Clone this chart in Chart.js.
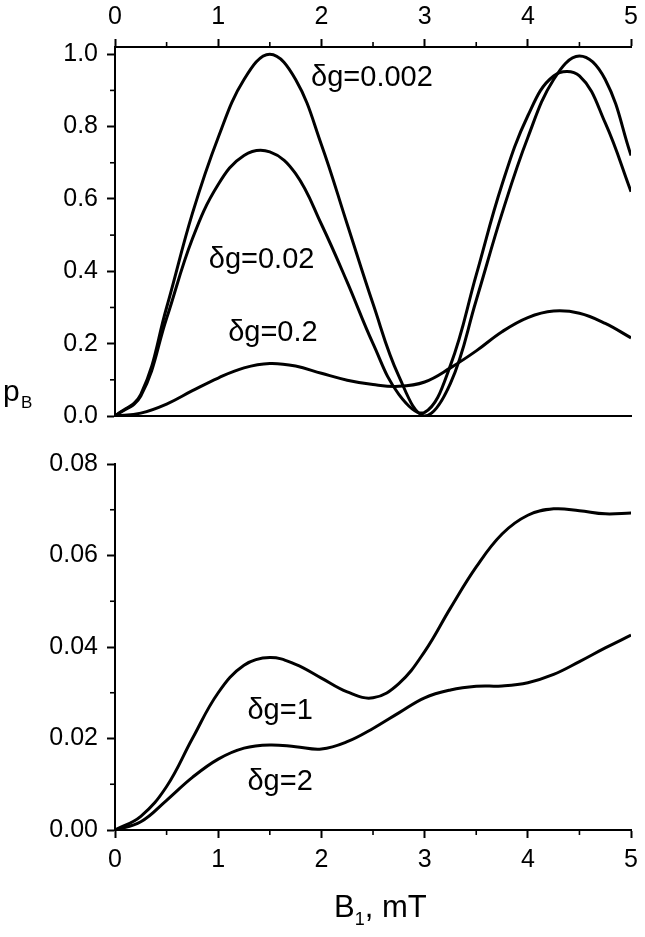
<!DOCTYPE html>
<html lang="en">
<head>
<meta charset="UTF-8">
<title>pB vs B1</title>
<script src="https://cdn.jsdelivr.net/npm/chart.js@4"></script>
<style>
  html, body { margin: 0; padding: 0; background: #fff; }
  body { width: 645px; height: 937px; position: relative; overflow: hidden; }
  .panel { position: absolute; left: 0; width: 645px; }
  #top { top: 0; height: 440px; }
  #bottom { top: 440px; height: 497px; }
</style>
</head>
<body>
<div class="panel" id="top"><canvas id="topChart"></canvas></div>
<div class="panel" id="bottom"><canvas id="bottomChart"></canvas></div>
<script>
// B1 field, mT
const bField = [0, 0.25, 0.5, 0.75, 1, 1.25, 1.5, 1.75, 2, 2.25, 2.5, 2.75, 3,
                3.25, 3.5, 3.75, 4, 4.25, 4.5, 4.75, 5];

// upper panel
const pDg0002 = [0, 0.06, 0.3, 0.56, 0.77, 0.93, 1.0, 0.93, 0.75, 0.53, 0.31, 0.11, 0.0,
                 0.09, 0.32, 0.56, 0.77, 0.93, 0.995, 0.93, 0.72];
const pDg002  = [0, 0.055, 0.27, 0.49, 0.64, 0.72, 0.73, 0.67, 0.53, 0.37, 0.2, 0.06, 0.01,
                 0.14, 0.39, 0.64, 0.83, 0.94, 0.94, 0.81, 0.62];
const pDg02   = [0, 0.008, 0.033, 0.07, 0.105, 0.133, 0.145, 0.138, 0.118, 0.099, 0.087, 0.082, 0.094,
                 0.133, 0.18, 0.233, 0.272, 0.29, 0.284, 0.256, 0.216];

// lower panel
const pDg1 = [0, 0.003, 0.0095, 0.02, 0.03, 0.036, 0.0377, 0.0362, 0.0332, 0.0302, 0.0289, 0.032, 0.039,
              0.0485, 0.0575, 0.0647, 0.0688, 0.0702, 0.0698, 0.0691, 0.0693];
const pDg2 = [0, 0.0018, 0.0065, 0.0115, 0.0155, 0.0179, 0.0186, 0.0182, 0.0177, 0.0193, 0.0222, 0.0256, 0.0289,
              0.0306, 0.0314, 0.0315, 0.0322, 0.034, 0.0368, 0.0398, 0.0426];

// ticks
const xTicks = [0, 1, 2, 3, 4, 5];
const xMinor = [0.5, 1.5, 2.5, 3.5, 4.5];
const yTicksTop = [0, 0.2, 0.4, 0.6, 0.8, 1.0];
const yMinorTop = [0.1, 0.3, 0.5, 0.7, 0.9];
const yTicksBottom = [0, 0.02, 0.04, 0.06, 0.08];
const yMinorBottom = [0.01, 0.03, 0.05, 0.07];

const FONT = "'Liberation Sans', Arial, sans-serif";

function toPoints(ys) {
    return ys.map((y, i) => ({ x: bField[i], y: y }));
}

function lineSet(ys) {
    return {
        data: toPoints(ys),
        borderColor: '#000',
        borderWidth: 3,
        pointRadius: 0,
        fill: false,
        tension: 0.4
    };
}

// short minor tick marks on the outside of the axes
const minorTicks = {
    id: 'minorTicks',
    afterDraw(chart, args, opts) {
        const ctx = chart.ctx;
        ctx.save();
        ctx.strokeStyle = '#000';
        ctx.lineWidth = 1.6;
        (opts.axes || []).forEach(a => {
            const s = chart.scales[a.id];
            a.values.forEach(v => {
                const p = s.getPixelForValue(v);
                ctx.beginPath();
                if (s.isHorizontal()) {
                    const y = s.position === 'top' ? s.bottom : s.top;
                    const dir = s.position === 'top' ? -1 : 1;
                    ctx.moveTo(p, y);
                    ctx.lineTo(p, y + dir * 5);
                } else {
                    ctx.moveTo(s.right, p);
                    ctx.lineTo(s.right - 5, p);
                }
                ctx.stroke();
            });
        });
        ctx.restore();
    }
};

// curve labels and axis titles
const textLabels = {
    id: 'textLabels',
    afterDraw(chart, args, opts) {
        const ctx = chart.ctx;
        const xs = chart.scales.x, ys = chart.scales.y;
        ctx.save();
        ctx.fillStyle = '#000';
        ctx.textAlign = 'center';
        ctx.textBaseline = 'middle';
        ctx.font = '29px ' + FONT;
        (opts.items || []).forEach(it => {
            ctx.fillText(it.text, xs.getPixelForValue(it.x), ys.getPixelForValue(it.y));
        });
        if (opts.yTitle) {
            ctx.textAlign = 'left';
            ctx.textBaseline = 'alphabetic';
            ctx.font = '30px ' + FONT;
            ctx.fillText('p', 3, 401);
            ctx.font = '17px ' + FONT;
            ctx.fillText('B', 21, 408);
        }
        if (opts.xTitle) {
            ctx.textAlign = 'left';
            ctx.textBaseline = 'alphabetic';
            const base = chart.height - 20;
            ctx.font = '31px ' + FONT;
            let x = 334;
            ctx.fillText('B', x, base);
            x += ctx.measureText('B').width;
            ctx.font = '18px ' + FONT;
            ctx.fillText('1', x, base + 8);
            x += ctx.measureText('1').width;
            ctx.font = '31px ' + FONT;
            ctx.fillText(', mT', x, base);
        }
        ctx.restore();
    }
};

function yAxis(min, max, ticks, digits) {
    return {
        type: 'linear',
        position: 'left',
        min: min,
        max: max,
        afterBuildTicks: s => { s.ticks = ticks.map(v => ({ value: v })); },
        afterFit: s => { s.width = 115; },
        ticks: {
            color: '#000',
            font: { family: FONT, size: 25 },
            padding: 9,
            callback: v => Number(v).toFixed(digits)
        },
        grid: { drawOnChartArea: false, tickLength: 8, tickWidth: 2, tickColor: '#000' },
        border: { display: true, color: '#000', width: 2 }
    };
}

function xAxis(position, height, showTicks) {
    return {
        type: 'linear',
        position: position,
        min: 0,
        max: 5,
        afterBuildTicks: s => { s.ticks = xTicks.map(v => ({ value: v })); },
        afterFit: s => { s.height = height; },
        ticks: {
            display: showTicks,
            color: '#000',
            font: { family: FONT, size: 25 },
            padding: 7,
            maxRotation: 0
        },
        grid: { display: showTicks, drawOnChartArea: false, tickLength: 8, tickWidth: 2, tickColor: '#000' },
        border: { display: true, color: '#000', width: 2 }
    };
}

new Chart(document.getElementById('topChart'), {
    type: 'line',
    data: {
        datasets: [lineSet(pDg0002), lineSet(pDg002), lineSet(pDg02)]
    },
    options: {
        responsive: true,
        maintainAspectRatio: false,
        animation: false,
        layout: { padding: { left: 0, right: 13, top: 0, bottom: 0 } },
        plugins: {
            legend: { display: false },
            tooltip: { enabled: false },
            minorTicks: { axes: [{ id: 'x', values: xMinor }, { id: 'y', values: yMinorTop }] },
            textLabels: {
                yTitle: true,
                items: [
                    { text: 'δg=0.002', x: 2.49, y: 0.935 },
                    { text: 'δg=0.02', x: 1.42, y: 0.43 },
                    { text: 'δg=0.2', x: 1.53, y: 0.23 }
                ]
            }
        },
        scales: {
            x: xAxis('top', 47, true),
            xb: xAxis('bottom', 20, false),
            y: yAxis(0, 1.02, yTicksTop, 1)
        }
    },
    plugins: [minorTicks, textLabels]
});

new Chart(document.getElementById('bottomChart'), {
    type: 'line',
    data: {
        datasets: [lineSet(pDg1), lineSet(pDg2)]
    },
    options: {
        responsive: true,
        maintainAspectRatio: false,
        animation: false,
        layout: { padding: { left: 0, right: 13, top: 20, bottom: 0 } },
        plugins: {
            legend: { display: false },
            tooltip: { enabled: false },
            minorTicks: { axes: [{ id: 'x', values: xMinor }, { id: 'y', values: yMinorBottom }] },
            textLabels: {
                xTitle: true,
                items: [
                    { text: 'δg=1', x: 1.6, y: 0.026 },
                    { text: 'δg=2', x: 1.6, y: 0.0104 }
                ]
            }
        },
        scales: {
            x: xAxis('bottom', 107, true),
            y: yAxis(0, 0.08, yTicksBottom, 2)
        }
    },
    plugins: [minorTicks, textLabels]
});
</script>
</body>
</html>
